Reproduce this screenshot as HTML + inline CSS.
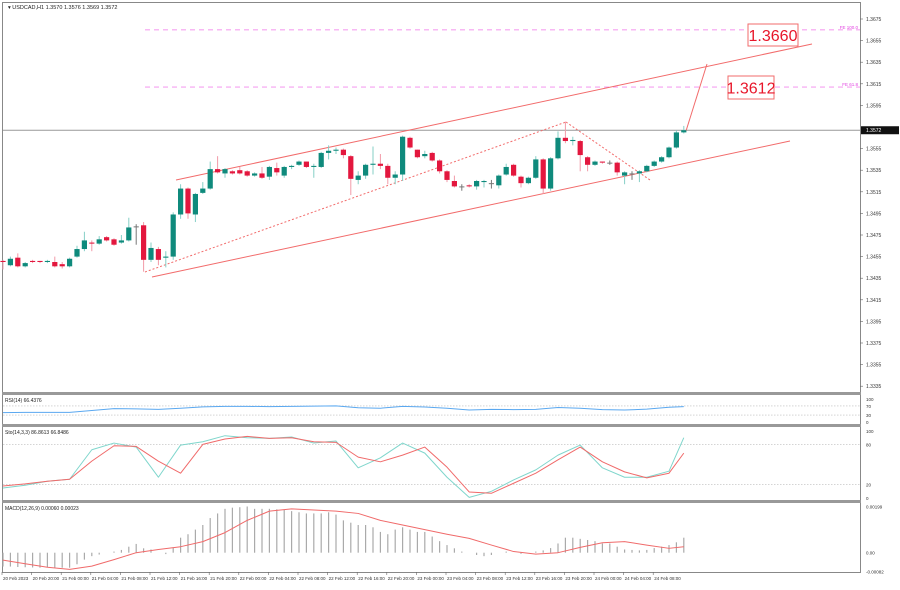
<!DOCTYPE html>
<html><head><meta charset="utf-8"><style>
body{margin:0;background:#fff;font-family:"Liberation Sans",sans-serif}
svg text{font-family:"Liberation Sans",sans-serif}
</style></head><body>
<svg id="c" width="900" height="585" viewBox="0 0 900 585" xmlns="http://www.w3.org/2000/svg">
<rect x="0" y="0" width="900" height="585" fill="#fff"/>
<g id="frame">
<rect x="2.5" y="2.5" width="858" height="570" fill="none" stroke="#888" stroke-width="1"/>
<rect x="2" y="392" width="859" height="3" fill="#999"/>
<rect x="2" y="424" width="859" height="3" fill="#999"/>
<rect x="2" y="500" width="859" height="3" fill="#999"/>
</g>
<text x="8" y="9" font-size="5.5" fill="#222">▾ USDCAD,H1  1.3570 1.3576 1.3569 1.3572</text>
<text x="5" y="402" font-size="5" fill="#222">RSI(14) 66.4376</text>
<text x="5" y="434" font-size="5" fill="#222">Sto(14,3,3) 86.8613 66.8486</text>
<text x="5" y="510" font-size="5" fill="#222">MACD(12,26,9) 0.00060 0.00023</text>
<g id="grid"></g><g id="draw"></g><g id="cand"></g><g id="ind"></g><g id="axes"></g>
</svg>
<script>
const opens=[1.3451,1.3447,1.3454,1.3446,1.3451,1.3451,1.3450,1.3450,1.3448,1.3446,1.3455,1.3462,1.3468,1.3467,1.3473,1.3471,1.3468,1.3470,1.3483,1.3484,1.3452,1.3462,1.3454,1.3455,1.3494,1.3518,1.3494,1.3514,1.3518,1.3536,1.3532,1.3534,1.3535,1.3534,1.3530,1.3532,1.3529,1.3537,1.3530,1.3538,1.3540,1.3543,1.3538,1.3538,1.3551,1.3553,1.3554,1.3548,1.3526,1.3530,1.3540,1.3541,1.3539,1.3528,1.3531,1.3565,1.3554,1.3548,1.3551,1.3544,1.3534,1.3525,1.3520,1.3521,1.3520,1.3524,1.3523,1.3521,1.3531,1.3540,1.3529,1.3523,1.3528,1.3545,1.3518,1.3546,1.3565,1.3562,1.3562,1.3547,1.3540,1.3543,1.3542,1.3542,1.3530,1.3532,1.3532,1.3534,1.3539,1.3543,1.3547,1.3556,1.3570];
const highs=[1.3452,1.3455,1.3458,1.3450,1.3452,1.3451,1.3452,1.3455,1.3450,1.3454,1.3465,1.3478,1.3470,1.3474,1.3474,1.3472,1.3475,1.3491,1.3485,1.3487,1.3468,1.3464,1.3460,1.3496,1.3522,1.3519,1.3514,1.3524,1.3543,1.3548,1.3537,1.3535,1.3538,1.3535,1.3533,1.3538,1.3539,1.3542,1.3539,1.3540,1.3544,1.3543,1.3541,1.3552,1.3558,1.3556,1.3555,1.3549,1.3534,1.3541,1.3557,1.3550,1.3541,1.3534,1.3567,1.3566,1.3554,1.3553,1.3552,1.3545,1.3535,1.3530,1.3522,1.3522,1.3526,1.3526,1.3526,1.3531,1.3541,1.3541,1.3530,1.3529,1.3548,1.3546,1.3547,1.3571,1.3580,1.3566,1.3563,1.3548,1.3544,1.3543,1.3544,1.3543,1.3534,1.3534,1.3535,1.3540,1.3544,1.3548,1.3557,1.3572,1.3576];
const lows=[1.3443,1.3446,1.3445,1.3445,1.3449,1.3449,1.3449,1.3445,1.3444,1.3445,1.3454,1.3460,1.3460,1.3466,1.3469,1.3465,1.3467,1.3469,1.3466,1.3441,1.3450,1.3447,1.3445,1.3452,1.3490,1.3490,1.3487,1.3513,1.3517,1.3532,1.3528,1.3531,1.3531,1.3529,1.3529,1.3527,1.3526,1.3530,1.3528,1.3536,1.3539,1.3537,1.3528,1.3537,1.3545,1.3550,1.3546,1.3512,1.3522,1.3527,1.3531,1.3536,1.3522,1.3522,1.3525,1.3555,1.3546,1.3546,1.3543,1.3532,1.3524,1.3519,1.3516,1.3519,1.3517,1.3519,1.3518,1.3518,1.3530,1.3529,1.3519,1.3522,1.3527,1.3513,1.3516,1.3545,1.3560,1.3558,1.3534,1.3534,1.3539,1.3541,1.3540,1.3530,1.3522,1.3526,1.3524,1.3533,1.3538,1.3542,1.3546,1.3555,1.3569];
const closes=[1.3450,1.3453,1.3446,1.3449,1.3450,1.3450,1.3451,1.3446,1.3446,1.3453,1.3462,1.3470,1.3467,1.3471,1.3470,1.3466,1.3470,1.3482,1.3483,1.3452,1.3463,1.3452,1.3455,1.3494,1.3518,1.3495,1.3513,1.3518,1.3536,1.3533,1.3536,1.3532,1.3532,1.3530,1.3532,1.3528,1.3538,1.3533,1.3538,1.3539,1.3543,1.3538,1.3539,1.3551,1.3553,1.3554,1.3549,1.3527,1.3530,1.3540,1.3541,1.3539,1.3528,1.3531,1.3566,1.3556,1.3547,1.3550,1.3544,1.3534,1.3526,1.3520,1.3520,1.3520,1.3525,1.3525,1.3523,1.3530,1.3538,1.3530,1.3523,1.3528,1.3545,1.3518,1.3546,1.3565,1.3562,1.3563,1.3549,1.3540,1.3543,1.3542,1.3542,1.3533,1.3533,1.3532,1.3534,1.3539,1.3543,1.3547,1.3556,1.3570,1.3572];
const priceTicks=[1.3675,1.3655,1.3635,1.3615,1.3595,1.3555,1.3535,1.3515,1.3495,1.3475,1.3455,1.3435,1.3415,1.3395,1.3375,1.3355,1.3335];
const timeLabels=["20 Feb 2023","20 Feb 20:00","21 Feb 00:00","21 Feb 04:00","21 Feb 08:00","21 Feb 12:00","21 Feb 16:00","21 Feb 20:00","22 Feb 00:00","22 Feb 04:00","22 Feb 08:00","22 Feb 12:00","22 Feb 16:00","22 Feb 20:00","23 Feb 00:00","23 Feb 04:00","23 Feb 08:00","23 Feb 12:00","23 Feb 16:00","23 Feb 20:00","24 Feb 00:00","24 Feb 04:00","24 Feb 08:00"];
const rsiVals=[41,42,42,42,50,58,57,55,60,66,68,68,67,68,69,70,62,60,68,65,60,52,55,54,55,63,60,54,52,56,64,67];
const stochMain=[15,19,25,28,72,82,76,31,79,84,93,90,89,91,82,85,45,60,82,67,31,1,10,27,42,64,79,45,31,31,40,90];
const stochSignal=[18,21,25,28,55,78,77,55,37,80,88,92,89,90,84,83,61,54,64,76,46,9,7,22,37,57,76,54,39,30,37,67];
const macdHist=[-0.0006,-0.0006,-0.00062,-0.00063,-0.00064,-0.00065,-0.00064,-0.00065,-0.00065,-0.00065,-0.0005,-0.0003,-0.00015,-0.00008,0,0.00005,0.00012,0.00026,0.00038,0.00019,0.00014,0,-0.00006,0.00023,0.00065,0.0008,0.001,0.0012,0.0015,0.0017,0.0019,0.00195,0.00197,0.002,0.0019,0.0019,0.0019,0.00188,0.00185,0.0018,0.00175,0.0017,0.0017,0.0017,0.00175,0.00165,0.0014,0.0013,0.0012,0.0012,0.0011,0.0009,0.0008,0.001,0.0011,0.001,0.0009,0.0009,0.0007,0.0005,0.00033,0.00019,0.00005,0,-0.0001,-0.00015,-0.0001,0,0.00005,0,-0.00005,0,0.00005,0.0001,0.0002,0.0004,0.00065,0.00065,0.0006,0.00055,0.0005,0.0004,0.0004,0.00026,0.00014,0.00012,0.0001,0.00012,0.0002,0.00026,0.00033,0.00045,0.00065];
const macdSignal=[-0.00032,-0.00048,-0.00063,-0.00072,-0.00058,-0.0003,0,0.00014,0.00026,0.00048,0.00087,0.0014,0.0018,0.0019,0.00185,0.0018,0.0017,0.0014,0.0012,0.001,0.0008,0.00062,0.00033,0.00005,-0.00006,0,0.00023,0.00043,0.00048,0.00033,0.00019,0.00026];
const fibLevels=[1.3665,1.3612];
const fibNames=["FE 100.0","FE 61.8"];
const currentPrice=1.3572;

const NS="http://www.w3.org/2000/svg";
function mk(parent,tag,attrs){const e=document.createElementNS(NS,tag);for(const k in attrs)e.setAttribute(k,attrs[k]);parent.appendChild(e);return e;}
const xOf=i=>3+i*7.4;
const yP=p=>19+(1.3675-p)*10800;
const yRsi=v=>422-v*0.23;
const ySto=v=>498-v*0.67;
const yMacd=v=>552.7-v/0.0000433;
const indIdx=k=>Math.min(k*3,closes.length-1);
const G=id=>document.getElementById(id);

let cl=mk(G('grid'),'line',{x1:3,x2:860,y1:yP(currentPrice),y2:yP(currentPrice),stroke:'#999','stroke-width':1});


[[yRsi(70)],[yRsi(30)],[ySto(80)],[ySto(20)]].forEach(a=>{
 let l=mk(G('grid'),'line',{x1:3,x2:860,y1:a[0],y2:a[0],stroke:'#bbb','stroke-width':0.6,'stroke-dasharray':'1.5,1.5'});
 
 
});

fibLevels.forEach((p,i)=>{
 let l=mk(G('draw'),'line',{x1:145,x2:860,y1:yP(p),y2:yP(p),stroke:'#f5a0f0','stroke-width':1.2,'stroke-dasharray':'5,4'});
 
 
 let t=mk(G('draw'),'text',{x:858,y:yP(p)-1,'font-size':4.5,fill:'#e040e0','text-anchor':'end'});
 t.textContent=fibNames[i];
 
 
});
function ln(x1,y1,x2,y2,name,dash){let l=mk(G('draw'),'line',{x1,y1,x2,y2,stroke:'#f26b6b','stroke-width':1,'stroke-dasharray':dash||'none'});}
ln(176,180,812,44,'channel-upper');
ln(152,277,790,141,'channel-lower');
ln(145,272,566,122,'channel-mid-dotted','2,2');
ln(566,122,650,180,'projection-dotted','2,2');
ln(686,131,707,64,'target-arrow-line');
[[748,24,50,22,'1.3660'],[728,76,46,23,'1.3612']].forEach(b=>{
 let g=mk(G('draw'),'g',{});
 
 
 mk(g,'rect',{x:b[0],y:b[1],width:b[2],height:b[3],fill:'#fff',stroke:'#f26b6b','stroke-width':1});
 let t=mk(g,'text',{x:b[0]+b[2]/2,y:b[1]+b[3]/2+6,'font-size':16,fill:'#e8162a','text-anchor':'middle'});
 t.textContent=b[4];
});

closes.forEach((c,i)=>{
 const o=opens[i],h=highs[i],l=lows[i],x=xOf(i);
 const col=Math.abs(c-o)<0.00005?'#777':(c>o?'#0f8a7c':'#e3173e');
 const wc=col=='#777'?'#777':(c>o?'#86cfc6':'#f29aa8');
 let w=mk(G('cand'),'line',{x1:x,x2:x,y1:yP(h),y2:yP(l),stroke:wc,'stroke-width':1});
 
 
 const yt=yP(Math.max(o,c)),yb=yP(Math.min(o,c));
 let r=mk(G('cand'),'rect',{x:x-2.6,y:yt,width:5.2,height:Math.max(1,yb-yt),fill:col});
 
 
});

let rp=rsiVals.map((v,k)=>xOf(indIdx(k))+','+yRsi(v)).join(' ');
let rl=mk(G('ind'),'polyline',{points:rp,fill:'none',stroke:'#5aa8f0','stroke-width':1,'stroke-linejoin':'round'});


let sp=stochMain.map((v,k)=>xOf(indIdx(k))+','+ySto(v)).join(' ');
let sl=mk(G('ind'),'polyline',{points:sp,fill:'none',stroke:'#7fd6cc','stroke-width':1,'stroke-linejoin':'round'});


let ssp=stochSignal.map((v,k)=>xOf(indIdx(k))+','+ySto(v)).join(' ');
let ssl=mk(G('ind'),'polyline',{points:ssp,fill:'none',stroke:'#f06a6a','stroke-width':1,'stroke-linejoin':'round'});


macdHist.forEach((v,i)=>{
 let b=mk(G('ind'),'line',{x1:xOf(i),x2:xOf(i),y1:yMacd(0),y2:yMacd(v),stroke:'#aaa','stroke-width':1.2});
 
 
});
let mp=macdSignal.map((v,k)=>xOf(indIdx(k))+','+yMacd(v)).join(' ');
let ml=mk(G('ind'),'polyline',{points:mp,fill:'none',stroke:'#f06a6a','stroke-width':1,'stroke-linejoin':'round'});



priceTicks.forEach(p=>{
 let t=mk(G('axes'),'text',{x:866,y:yP(p)+2,'font-size':5,fill:'#333'});
 t.textContent=p.toFixed(4);
 
 
 mk(G('axes'),'line',{x1:860,x2:863,y1:yP(p),y2:yP(p),stroke:'#666','stroke-width':0.6});
});
let pb=mk(G('axes'),'rect',{x:861,y:yP(currentPrice)-4,width:38,height:8,fill:'#111'});


let pt=mk(G('axes'),'text',{x:866,y:yP(currentPrice)+2,'font-size':5,fill:'#fff'});
pt.textContent=currentPrice.toFixed(4);


[['100',yRsi(100)],['70',yRsi(70)],['30',yRsi(30)],['0',yRsi(0)],['100',ySto(100)],['80',ySto(80)],['20',ySto(20)],['0',ySto(0)],['0.00199',yMacd(0.00199)],['0.00',yMacd(0)],['-0.00082',yMacd(-0.00082)]].forEach(a=>{
 let t=mk(G('axes'),'text',{x:866,y:a[1]+2,'font-size':4.5,fill:'#333'});
 t.textContent=a[0];
 
 
});
timeLabels.forEach((s,k)=>{
 const x=xOf(k*4)-1;
 mk(G('axes'),'line',{x1:x,x2:x,y1:572,y2:575,stroke:'#666','stroke-width':0.6});
 let t=mk(G('axes'),'text',{x:x+1,y:580,'font-size':4.5,fill:'#333'});
 t.textContent=s;
 
 
});
</script>
</body></html>
